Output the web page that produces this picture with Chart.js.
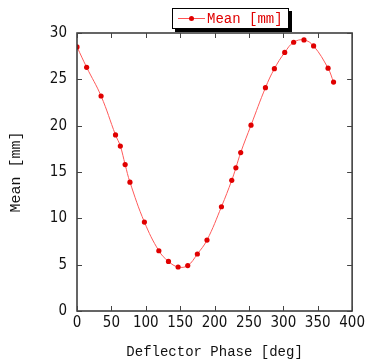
<!DOCTYPE html>
<html>
<head>
<meta charset="utf-8">
<script src="https://cdn.jsdelivr.net/npm/chart.js@4.4.1/dist/chart.umd.min.js"></script>
<style>
  html, body { margin: 0; padding: 0; background: #fff; overflow: hidden; }
</style>
</head>
<body>
<canvas id="meanChart" width="368" height="363"></canvas>
<script>
// deflector phase [deg]
const phase = [0, 14, 35, 56, 63, 70, 77, 98, 119, 133, 147, 161, 175, 189,
  210, 225, 231, 238, 253, 274, 287, 302, 315, 330, 344, 365, 373];
// mean [mm]
const mean = [28.5, 26.3, 23.2, 19.0, 17.8, 15.8, 13.9, 9.6, 6.5, 5.35, 4.75, 4.9, 6.15, 7.65,
  11.25, 14.1, 15.45, 17.1, 20.05, 24.1, 26.15, 27.9, 29.0, 29.25, 28.6, 26.2, 24.7];
const xTicks = [0, 50, 100, 150, 200, 250, 300, 350, 400];
const yTicks = [0, 5, 10, 15, 20, 25, 30];
const seriesLabel = 'Mean [mm]';

const points = phase.map((p, i) => ({ x: p, y: mean[i] }));

const tickFont = { family: "'DejaVu Sans Condensed', 'Liberation Sans Narrow', 'Liberation Sans', sans-serif", size: 15 };
const monoFont = "'Liberation Mono', 'DejaVu Sans Mono', monospace";

// frame with inward tick marks on all four sides
const framePlugin = {
  id: 'frame',
  afterDatasetsDraw(chart) {
    const { ctx, chartArea: a, scales } = chart;
    ctx.save();
    ctx.strokeStyle = '#333';
    ctx.lineWidth = 1.5;
    ctx.strokeRect(a.left, a.top, a.right - a.left, a.bottom - a.top);
    ctx.lineWidth = 1;
    ctx.strokeStyle = '#444';
    ctx.beginPath();
    xTicks.forEach(v => {
      const px = Math.round(scales.x.getPixelForValue(v)) + 0.5;
      ctx.moveTo(px, a.bottom); ctx.lineTo(px, a.bottom - 5);
      ctx.moveTo(px, a.top); ctx.lineTo(px, a.top + 5);
    });
    yTicks.forEach(v => {
      const py = Math.round(scales.y.getPixelForValue(v)) + 0.5;
      ctx.moveTo(a.left, py); ctx.lineTo(a.left + 5, py);
      ctx.moveTo(a.right, py); ctx.lineTo(a.right - 5, py);
    });
    ctx.stroke();
    ctx.restore();
  },
  afterDraw(chart) {
    // boxed legend with drop shadow
    const { ctx } = chart;
    const bx = 172, by = 8, bw = 117, bh = 21;
    ctx.save();
    ctx.fillStyle = '#000';
    ctx.fillRect(bx + 3, by + 3, bw, bh);
    ctx.fillStyle = '#fff';
    ctx.fillRect(bx, by, bw, bh);
    ctx.strokeStyle = '#000';
    ctx.lineWidth = 1;
    ctx.strokeRect(bx + 0.5, by + 0.5, bw - 1, bh - 1);
    const cy = by + bh / 2;
    ctx.strokeStyle = '#ff5050';
    ctx.beginPath();
    ctx.moveTo(bx + 6, cy); ctx.lineTo(bx + 33, cy);
    ctx.stroke();
    ctx.fillStyle = '#e00000';
    ctx.beginPath();
    ctx.arc(bx + 19.5, cy, 2.5, 0, Math.PI * 2);
    ctx.fill();
    ctx.font = '14px ' + monoFont;
    ctx.textBaseline = 'middle';
    ctx.fillText(seriesLabel, bx + 35, cy + 1);
    ctx.restore();
  }
};

new Chart(document.getElementById('meanChart'), {
  type: 'line',
  data: {
    datasets: [{
      label: seriesLabel,
      data: points,
      borderColor: '#ff5a5a',
      borderWidth: 1,
      tension: 0.4,
      pointRadius: 2.6,
      pointBackgroundColor: '#e00000',
      pointBorderWidth: 0,
      fill: false,
    }]
  },
  options: {
    responsive: false,
    animation: false,
    layout: { padding: { top: 33, right: 14, left: 0, bottom: 0 } },
    plugins: {
      legend: { display: false },
      tooltip: { enabled: false },
    },
    scales: {
      x: {
        type: 'linear',
        min: 0,
        max: 400,
        afterBuildTicks: scale => { scale.ticks = xTicks.map(v => ({ value: v })); },
        afterFit: scale => { scale.height = 52; },
        grid: { display: false, drawTicks: false },
        border: { display: false },
        ticks: { color: '#111', font: tickFont, padding: 3, maxRotation: 0, autoSkip: false },
        title: {
          display: true,
          text: 'Deflector Phase [deg]',
          color: '#111',
          font: { family: monoFont, size: 14 },
          padding: { top: 0, bottom: 2 },
        },
      },
      y: {
        min: 0,
        max: 30,
        afterBuildTicks: scale => { scale.ticks = yTicks.map(v => ({ value: v })); },
        afterFit: scale => { scale.width = 77; },
        grid: { display: false, drawTicks: false },
        border: { display: false },
        ticks: { color: '#111', font: tickFont, padding: 10, autoSkip: false },
        title: {
          display: true,
          text: 'Mean [mm]',
          color: '#111',
          font: { family: monoFont, size: 15 },
          padding: { top: 7, bottom: 0 },
        },
      },
    },
  },
  plugins: [framePlugin],
});
</script>
</body>
</html>
